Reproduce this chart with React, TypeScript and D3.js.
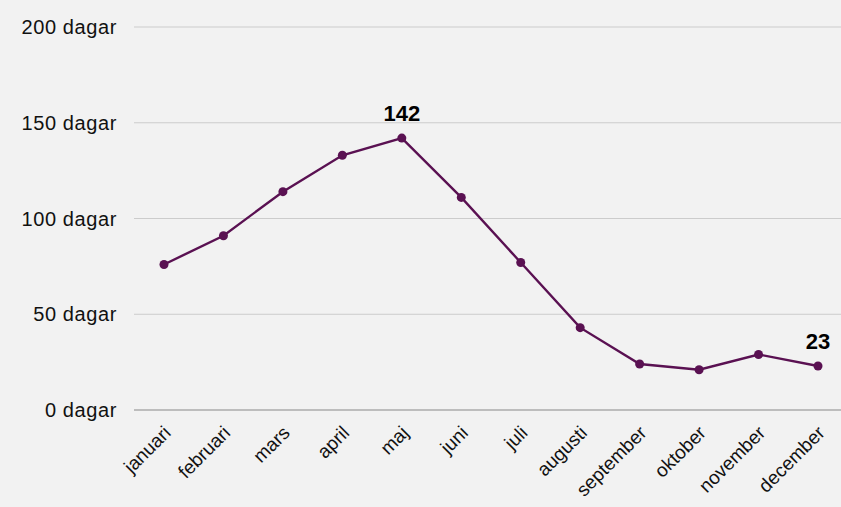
import React, { useRef, useEffect } from 'react';
import * as d3 from 'd3';

const months = ['januari', 'februari', 'mars', 'april', 'maj', 'juni', 'juli', 'augusti', 'september', 'oktober', 'november', 'december'];
const days = [76, 91, 114, 133, 142, 111, 77, 43, 24, 21, 29, 23];
const yTicks = [0, 50, 100, 150, 200];
const labelled = ['maj', 'december'];

export default function App() {
  const ref = useRef<SVGSVGElement>(null);

  useEffect(() => {
    const svg = d3.select(ref.current);
    svg.selectAll('*').remove();
    const width = 841, height = 507;
    const font = '"Liberation Sans", Arial, Helvetica, sans-serif';

    svg.append('rect').attr('width', width).attr('height', height).attr('fill', '#f2f2f2');

    const x = d3.scalePoint<string>().domain(months).range([164, 818]);
    const y = d3.scaleLinear().domain([0, 200]).range([410, 27]);

    const grid = svg.append('g');
    grid.selectAll('line')
      .data(yTicks.filter(t => t > 0))
      .join('line')
      .attr('x1', 134).attr('x2', width)
      .attr('y1', d => y(d)).attr('y2', d => y(d))
      .attr('stroke', '#cccccc').attr('stroke-width', 1);

    svg.append('line')
      .attr('x1', 134).attr('x2', width)
      .attr('y1', y(0)).attr('y2', y(0))
      .attr('stroke', '#888888').attr('stroke-width', 1.2);

    svg.append('g')
      .selectAll('text')
      .data(yTicks)
      .join('text')
      .attr('x', 117)
      .attr('y', d => y(d))
      .attr('dy', '0.35em')
      .attr('text-anchor', 'end')
      .attr('font-family', font)
      .attr('font-size', 20)
      .attr('letter-spacing', 0.6)
      .attr('fill', '#111')
      .text(d => `${d} dagar`);

    svg.append('g')
      .selectAll('text')
      .data(months)
      .join('text')
      .attr('transform', d => `translate(${x(d)! + 8},${y(0) + 24}) rotate(-45)`)
      .attr('text-anchor', 'end')
      .attr('font-family', font)
      .attr('font-size', 19)
      .attr('fill', '#111')
      .text(d => d);

    const line = d3.line<number>()
      .x((_, i) => x(months[i])!)
      .y(d => y(d));

    svg.append('path')
      .datum(days)
      .attr('d', line)
      .attr('fill', 'none')
      .attr('stroke', '#5a1152')
      .attr('stroke-width', 2.4);

    svg.append('g')
      .selectAll('circle')
      .data(days)
      .join('circle')
      .attr('cx', (_, i) => x(months[i])!)
      .attr('cy', d => y(d))
      .attr('r', 4.5)
      .attr('fill', '#5a1152');

    svg.append('g')
      .selectAll('text')
      .data(months.map((m, i) => ({ m, v: days[i] })).filter(d => labelled.includes(d.m)))
      .join('text')
      .attr('x', d => x(d.m)!)
      .attr('y', d => y(d.v) - 17)
      .attr('text-anchor', 'middle')
      .attr('font-family', font)
      .attr('font-size', 22)
      .attr('font-weight', 'bold')
      .attr('fill', '#000')
      .text(d => d.v);
  }, []);

  return <svg ref={ref} width={841} height={507} style={{ position: 'absolute', left: 0, top: 0 }} role="img" aria-label="Line chart"></svg>;
}
